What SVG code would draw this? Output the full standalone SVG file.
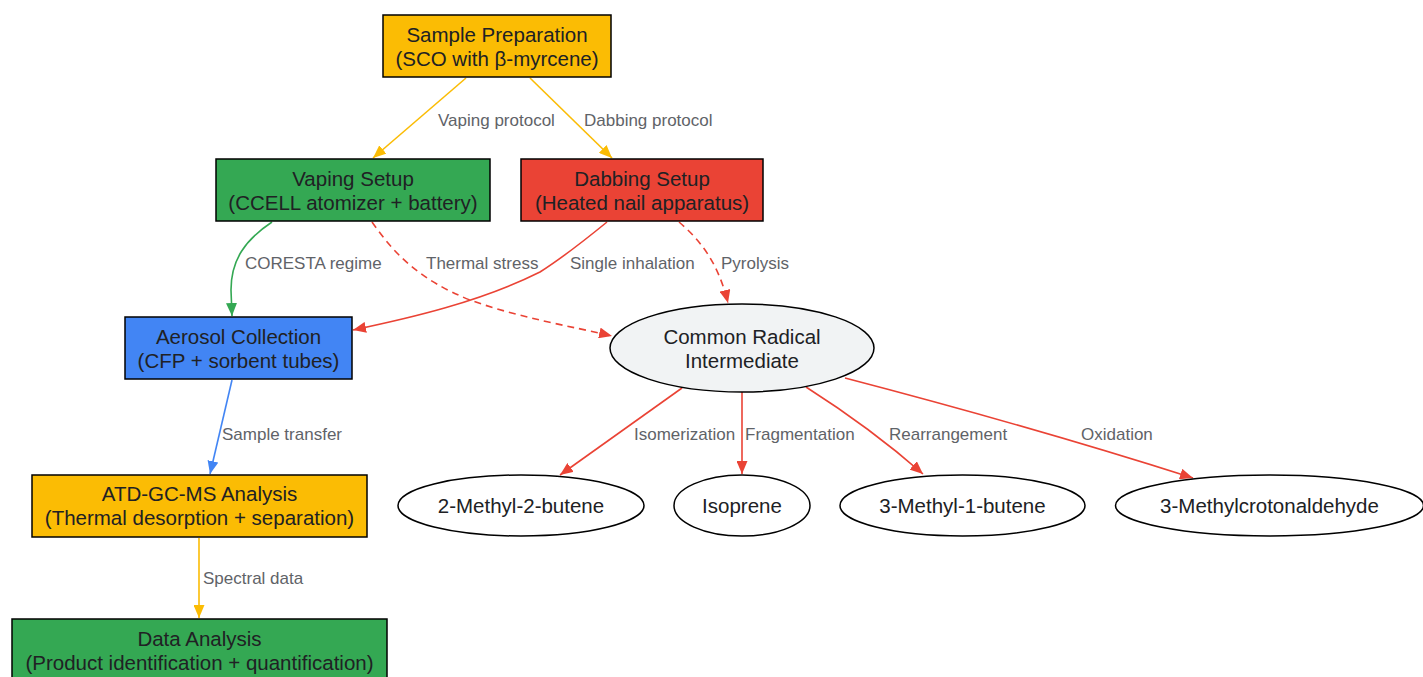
<svg xmlns="http://www.w3.org/2000/svg" width="1423" height="677" viewBox="0 0 1423 677">
<defs>
<style>
.box{stroke:#000;stroke-width:1.5}
.ell{stroke:#000;stroke-width:1.5}
.t{font-family:"Liberation Sans",Arial,sans-serif;font-size:20.5px;fill:#202124;text-anchor:middle}
.lbl{font-family:"Liberation Sans",Arial,sans-serif;font-size:17px;fill:#5f6368}
.e{fill:none;stroke-width:1.6}
.y{stroke:#FBBC04}
.g{stroke:#34A853}
.r{stroke:#EA4335}
.b{stroke:#4285F4}
.d{stroke-dasharray:7,5}
</style>
<marker id="ay" viewBox="0 0 13 11" refX="13" refY="5.5" markerWidth="13" markerHeight="11" markerUnits="userSpaceOnUse" orient="auto"><path d="M0,0 L13,5.5 L0,11 z" fill="#FBBC04"/></marker>
<marker id="ag" viewBox="0 0 13 11" refX="13" refY="5.5" markerWidth="13" markerHeight="11" markerUnits="userSpaceOnUse" orient="auto"><path d="M0,0 L13,5.5 L0,11 z" fill="#34A853"/></marker>
<marker id="ar" viewBox="0 0 13 11" refX="13" refY="5.5" markerWidth="13" markerHeight="11" markerUnits="userSpaceOnUse" orient="auto"><path d="M0,0 L13,5.5 L0,11 z" fill="#EA4335"/></marker>
<marker id="ab" viewBox="0 0 13 11" refX="13" refY="5.5" markerWidth="13" markerHeight="11" markerUnits="userSpaceOnUse" orient="auto"><path d="M0,0 L13,5.5 L0,11 z" fill="#4285F4"/></marker>
</defs>
<rect width="1423" height="677" fill="#fff"/>
<g id="connectors">
<path class="e y" d="M466,78 L373,158" marker-end="url(#ay)"/>
<path class="e y" d="M530,78 L612,158" marker-end="url(#ay)"/>
<path class="e g" d="M272,222 C245,240 231,260 231,290 L232,316" marker-end="url(#ag)"/>
<path class="e r d" d="M372,222 C395,255 420,280 470,300 C520,318 570,326 612,336" marker-end="url(#ar)"/>
<path class="e r" d="M607,222 C585,240 562,258 540,272 C480,302 410,318 353,330" marker-end="url(#ar)"/>
<path class="e r d" d="M679,222 C700,240 718,262 728,303" marker-end="url(#ar)"/>
<path class="e b" d="M232,380 L210,474" marker-end="url(#ab)"/>
<path class="e y" d="M199,538 L199,618" marker-end="url(#ay)"/>
<path class="e r" d="M682,388 L560,475" marker-end="url(#ar)"/>
<path class="e r" d="M742,392 L742,474" marker-end="url(#ar)"/>
<path class="e r" d="M806,387 C850,415 890,445 923,474" marker-end="url(#ar)"/>
<path class="e r" d="M845,378 C960,408 1080,442 1193,478" marker-end="url(#ar)"/>
<text class="lbl" x="438" y="126">Vaping protocol</text>
<text class="lbl" x="584" y="126">Dabbing protocol</text>
<text class="lbl" x="245" y="269">CORESTA regime</text>
<text class="lbl" x="426" y="269">Thermal stress</text>
<text class="lbl" x="570" y="269">Single inhalation</text>
<text class="lbl" x="721" y="269">Pyrolysis</text>
<text class="lbl" x="222" y="440">Sample transfer</text>
<text class="lbl" x="203" y="584">Spectral data</text>
<text class="lbl" x="634" y="440">Isomerization</text>
<text class="lbl" x="745" y="440">Fragmentation</text>
<text class="lbl" x="889" y="440">Rearrangement</text>
<text class="lbl" x="1081" y="440">Oxidation</text>
</g>
<g id="sample"><rect class="box" x="383" y="15" width="228" height="62" fill="#FBBC04"/><text class="t" x="497" y="42">Sample Preparation</text><text class="t" x="497" y="66">(SCO with β-myrcene)</text></g>
<g id="vaping"><rect class="box" x="216" y="159" width="274" height="62" fill="#34A853"/><text class="t" x="353" y="186">Vaping Setup</text><text class="t" x="353" y="210">(CCELL atomizer + battery)</text></g>
<g id="dabbing"><rect class="box" x="521" y="159" width="242" height="62" fill="#EA4335"/><text class="t" x="642" y="186">Dabbing Setup</text><text class="t" x="642" y="210">(Heated nail apparatus)</text></g>
<g id="aerosol"><rect class="box" x="125" y="317" width="227" height="62" fill="#4285F4"/><text class="t" x="238.5" y="344">Aerosol Collection</text><text class="t" x="238.5" y="368">(CFP + sorbent tubes)</text></g>
<g id="atd"><rect class="box" x="32" y="475" width="335" height="62" fill="#FBBC04"/><text class="t" x="199.5" y="501">ATD-GC-MS Analysis</text><text class="t" x="199.5" y="525">(Thermal desorption + separation)</text></g>
<g id="data"><rect class="box" x="12" y="619" width="375" height="62" fill="#34A853"/><text class="t" x="199.5" y="646">Data Analysis</text><text class="t" x="199.5" y="670">(Product identification + quantification)</text></g>
<g id="radical"><ellipse class="ell" cx="742" cy="348" rx="132" ry="44" fill="#F1F3F4"/><text class="t" x="742" y="344">Common Radical</text><text class="t" x="742" y="368">Intermediate</text></g>
<g id="m2b"><ellipse class="ell" cx="521" cy="505.5" rx="123" ry="30.5" fill="#fff"/><text class="t" x="521" y="512.5">2-Methyl-2-butene</text></g>
<g id="isoprene"><ellipse class="ell" cx="742" cy="505.5" rx="68" ry="30.5" fill="#fff"/><text class="t" x="742" y="512.5">Isoprene</text></g>
<g id="m1b"><ellipse class="ell" cx="962.5" cy="505.5" rx="122.5" ry="30.5" fill="#fff"/><text class="t" x="962.5" y="512.5">3-Methyl-1-butene</text></g>
<g id="mca"><ellipse class="ell" cx="1269.5" cy="505.5" rx="154" ry="30.5" fill="#fff"/><text class="t" x="1269.5" y="512.5">3-Methylcrotonaldehyde</text></g>
</svg>
